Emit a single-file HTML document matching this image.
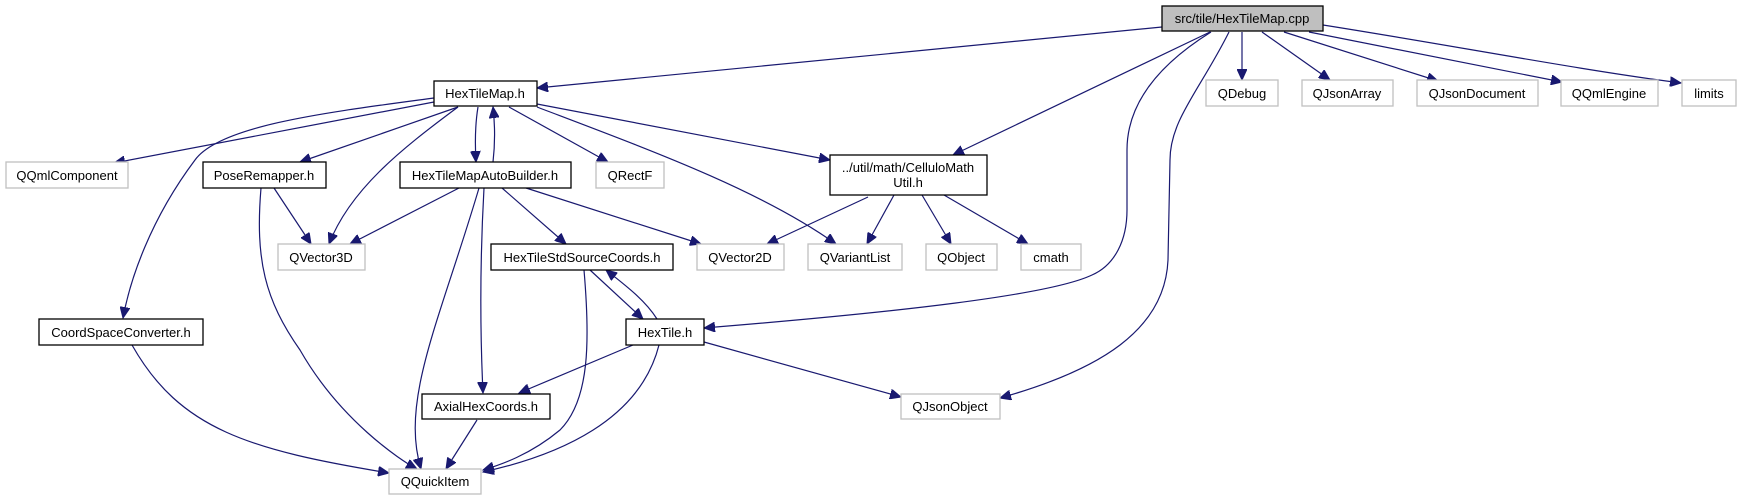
<!DOCTYPE html>
<html><head><meta charset="utf-8"><style>
html,body{margin:0;padding:0;background:#fff;width:1739px;height:500px;overflow:hidden}
svg text{font-family:"Liberation Sans",Arial,sans-serif;font-size:13px;fill:#000}
</style></head><body>
<svg width="1739" height="500" viewBox="0 0 1739 500" xmlns="http://www.w3.org/2000/svg">
<defs>
<marker id="a" markerUnits="userSpaceOnUse" markerWidth="12" markerHeight="10" refX="11" refY="5" orient="auto">
<path d="M0,0 L11,5 L0,10 z" fill="#191970" stroke="#191970"/>
</marker>
</defs>
<g fill="none" stroke="#191970" stroke-width="1.2" marker-end="url(#a)">
<!-- from cpp -->
<path d="M1162,27 L537,88"/>
<path d="M1210,32 L953,155"/>
<path d="M1211,32 C1150,70 1127,110 1127,150 L1127,210 C1127,240 1115,265 1092,275 C1050,295 900,312 704,328"/>
<path d="M1229,32 C1200,90 1170,120 1170,160 L1168,260 C1165,330 1100,370 1000,398"/>
<path d="M1242,32 L1242,80"/>
<path d="M1262,32 L1330,80"/>
<path d="M1284,32 L1438,81"/>
<path d="M1309,32 L1562,82"/>
<path d="M1323,25 C1450,45 1580,70 1681,83"/>
<!-- from HexTileMap.h -->
<path d="M434,102 L114,163"/>
<path d="M434,98 C330,112 220,125 195,160 C150,220 130,280 123,318"/>
<path d="M458,107 L300,162"/>
<path d="M458,107 C400,150 350,190 329,244"/>
<path d="M478,107 C475,125 475,145 476,162"/>
<path d="M493,162 C495,145 495,125 493,107"/>
<path d="M509,107 L608,162"/>
<path d="M537,104 L830,160"/>
<path d="M537,107 C650,150 760,190 836,244"/>
<!-- PoseRemapper -->
<path d="M274,188 L311,244"/>
<path d="M261,188 C255,260 265,300 300,350 C340,420 400,460 417,469"/>
<!-- AutoBuilder -->
<path d="M459,188 L350,244"/>
<path d="M479,188 C440,320 400,400 421,469"/>
<path d="M484,188 C480,260 480,330 483,393"/>
<path d="M502,188 L566,244"/>
<path d="M526,188 L701,244"/>
<!-- CelluloMathUtil -->
<path d="M868,197 L767,244"/>
<path d="M894,195 L867,244"/>
<path d="M922,195 L951,244"/>
<path d="M944,195 L1028,244"/>
<!-- StdSource -->
<path d="M590,270 L643,319"/>
<path d="M657,319 C645,300 625,285 606,270"/>
<path d="M584,270 C590,340 590,400 560,430 C530,455 500,465 483,470"/>
<!-- HexTile -->
<path d="M633,345 L519,393"/>
<path d="M659,345 C640,420 560,455 483,472"/>
<path d="M704,342 L901,397"/>
<!-- others -->
<path d="M132,345 C180,430 250,450 389,473"/>
<path d="M477,420 L446,469"/>
</g>
<g stroke-width="1.3">
<rect x="1162" y="6" width="161" height="25" fill="#bfbfbf" stroke="#000"/>
<g fill="#fff" stroke="#000">
<rect x="434" y="81" width="103" height="25"/>
<rect x="203" y="162" width="123" height="26"/>
<rect x="400" y="162" width="171" height="26"/>
<rect x="830" y="155" width="157" height="40"/>
<rect x="491" y="244" width="182" height="26"/>
<rect x="39" y="319" width="164" height="26"/>
<rect x="626" y="319" width="78" height="26"/>
<rect x="422" y="394" width="128" height="25"/>
</g>
<g fill="#fff" stroke="#c0c0c0">
<rect x="6" y="162" width="122" height="26"/>
<rect x="596" y="162" width="68" height="26"/>
<rect x="278" y="244" width="87" height="26"/>
<rect x="697" y="244" width="87" height="26"/>
<rect x="808" y="244" width="94" height="26"/>
<rect x="926" y="244" width="71" height="26"/>
<rect x="1021" y="244" width="60" height="26"/>
<rect x="1206" y="80" width="72" height="26"/>
<rect x="1302" y="80" width="91" height="26"/>
<rect x="1417" y="80" width="121" height="26"/>
<rect x="1561" y="80" width="97" height="26"/>
<rect x="1682" y="80" width="54" height="26"/>
<rect x="901" y="394" width="99" height="25"/>
<rect x="389" y="469" width="92" height="25"/>
</g>
</g>
<g text-anchor="middle">
<text x="1242" y="23">src/tile/HexTileMap.cpp</text>
<text x="485" y="98">HexTileMap.h</text>
<text x="264" y="180">PoseRemapper.h</text>
<text x="485" y="180">HexTileMapAutoBuilder.h</text>
<text x="908" y="172">../util/math/CelluloMath</text>
<text x="908" y="187">Util.h</text>
<text x="582" y="262">HexTileStdSourceCoords.h</text>
<text x="121" y="337">CoordSpaceConverter.h</text>
<text x="665" y="337">HexTile.h</text>
<text x="486" y="411">AxialHexCoords.h</text>
<text x="67" y="180">QQmlComponent</text>
<text x="630" y="180">QRectF</text>
<text x="321" y="262">QVector3D</text>
<text x="740" y="262">QVector2D</text>
<text x="855" y="262">QVariantList</text>
<text x="961" y="262">QObject</text>
<text x="1051" y="262">cmath</text>
<text x="1242" y="98">QDebug</text>
<text x="1347" y="98">QJsonArray</text>
<text x="1477" y="98">QJsonDocument</text>
<text x="1609" y="98">QQmlEngine</text>
<text x="1709" y="98">limits</text>
<text x="950" y="411">QJsonObject</text>
<text x="435" y="486">QQuickItem</text>
</g>
</svg>
</body></html>
